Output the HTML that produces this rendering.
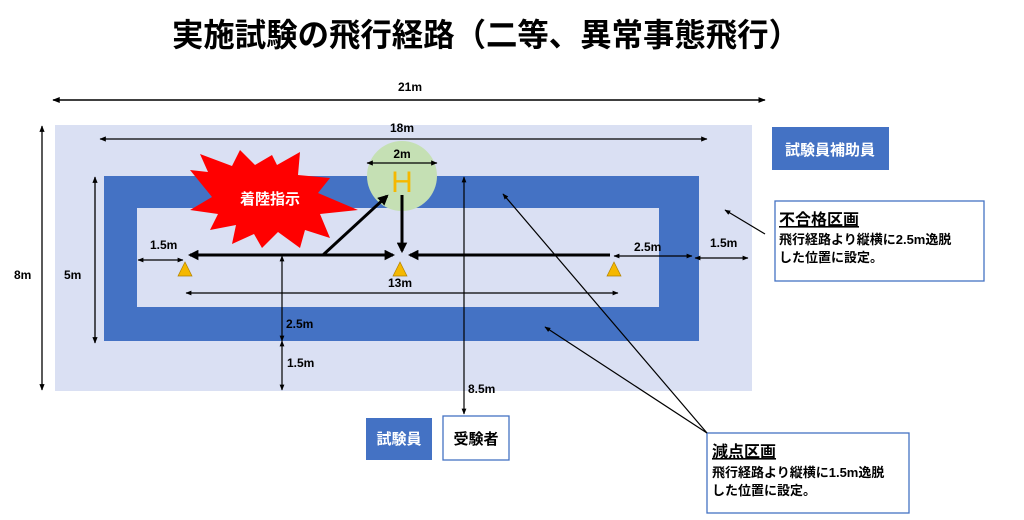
<!DOCTYPE html>
<html><head><meta charset="utf-8"><style>
html,body{margin:0;padding:0;background:#fff;}
svg{display:block;font-family:"Liberation Sans","Noto Sans CJK JP",sans-serif;}
</style></head><body>
<svg width="1024" height="520" viewBox="0 0 1024 520" xmlns="http://www.w3.org/2000/svg">
<defs>
<marker id="a" viewBox="0 0 10 10" refX="9" refY="5" markerWidth="5" markerHeight="5" orient="auto-start-reverse"><path d="M0,1 L10,5 L0,9 z" fill="#000"/></marker>
<marker id="b" viewBox="0 0 10 10" refX="8" refY="5" markerWidth="3.5" markerHeight="3.5" orient="auto-start-reverse"><path d="M0,0 L10,5 L0,10 z" fill="#000"/></marker>
</defs>
<text x="486" y="46" font-size="32" font-weight="bold" text-anchor="middle" textLength="628" lengthAdjust="spacingAndGlyphs">実施試験の飛行経路（二等、異常事態飛行）</text>
<line x1="53" y1="100" x2="765" y2="100" stroke="#000" stroke-width="1.5" marker-start="url(#a)" marker-end="url(#a)"/>
<text x="410" y="91" font-size="12" font-weight="bold" text-anchor="middle">21m</text>
<rect x="55" y="125" width="697" height="266" fill="#dae0f3"/>
<rect x="104" y="176" width="595" height="165" fill="#4472c4"/>
<rect x="137" y="208" width="522" height="99" fill="#dae0f3"/>
<line x1="100" y1="139" x2="707" y2="139" stroke="#000" stroke-width="1.3" marker-start="url(#a)" marker-end="url(#a)"/>
<text x="402" y="132" font-size="12" font-weight="bold" text-anchor="middle">18m</text>
<line x1="42" y1="126" x2="42" y2="390" stroke="#000" stroke-width="1.3" marker-start="url(#a)" marker-end="url(#a)"/>
<text x="14" y="279" font-size="12" font-weight="bold">8m</text>
<line x1="95" y1="177" x2="95" y2="343" stroke="#000" stroke-width="1.3" marker-start="url(#a)" marker-end="url(#a)"/>
<text x="64" y="279" font-size="12" font-weight="bold">5m</text>
<circle cx="402" cy="176" r="35" fill="#c5e0b4"/>
<text x="402" y="192" font-size="30" fill="#f5b800" text-anchor="middle">H</text>
<line x1="367" y1="163" x2="437" y2="163" stroke="#000" stroke-width="1.3" marker-start="url(#a)" marker-end="url(#a)"/>
<text x="402" y="158" font-size="12" font-weight="bold" text-anchor="middle">2m</text>
<polygon points="190,170 208,172 200,154 232,166 240,150 255,165 272,155 277,165 300,152 298,175 330,178 318,193 358,210 320,214 330,238 305,230 300,248 278,232 262,248 254,234 232,244 236,225 210,230 218,214 190,210 212,197" fill="#ff0000"/>
<text x="270" y="204" font-size="15" font-weight="bold" fill="#fff" text-anchor="middle">着陸指示</text>
<line x1="190" y1="255" x2="393" y2="255" stroke="#000" stroke-width="3" marker-start="url(#b)" marker-end="url(#b)"/>
<line x1="410" y1="255" x2="610" y2="255" stroke="#000" stroke-width="3" marker-start="url(#b)"/>
<line x1="323" y1="255" x2="387" y2="196" stroke="#000" stroke-width="3" marker-end="url(#b)"/>
<line x1="402" y1="195" x2="402" y2="251" stroke="#000" stroke-width="3" marker-end="url(#b)"/>
<polygon points="185,262 178,276 192,276" fill="#f5b800" stroke="#b08000" stroke-width="0.7"/>
<polygon points="400,262 393,276 407,276" fill="#f5b800" stroke="#b08000" stroke-width="0.7"/>
<polygon points="614,262 607,276 621,276" fill="#f5b800" stroke="#b08000" stroke-width="0.7"/>
<line x1="138" y1="260" x2="183" y2="260" stroke="#000" stroke-width="1.2" marker-start="url(#a)" marker-end="url(#a)"/>
<text x="150" y="249" font-size="12" font-weight="bold">1.5m</text>
<line x1="186" y1="293" x2="618" y2="293" stroke="#000" stroke-width="1.2" marker-start="url(#a)" marker-end="url(#a)"/>
<text x="400" y="287" font-size="12" font-weight="bold" text-anchor="middle">13m</text>
<line x1="282" y1="256" x2="282" y2="341" stroke="#000" stroke-width="1.2" marker-start="url(#a)" marker-end="url(#a)"/>
<line x1="282" y1="341" x2="282" y2="390" stroke="#000" stroke-width="1.2" marker-start="url(#a)" marker-end="url(#a)"/>
<text x="286" y="328" font-size="12" font-weight="bold">2.5m</text>
<text x="287" y="367" font-size="12" font-weight="bold">1.5m</text>
<line x1="464" y1="177" x2="464" y2="414" stroke="#000" stroke-width="1.2" marker-start="url(#a)" marker-end="url(#a)"/>
<text x="468" y="393" font-size="12" font-weight="bold">8.5m</text>
<line x1="614" y1="256" x2="692" y2="256" stroke="#000" stroke-width="1.2" marker-start="url(#a)" marker-end="url(#a)"/>
<text x="634" y="251" font-size="12" font-weight="bold">2.5m</text>
<line x1="695" y1="258" x2="748" y2="258" stroke="#000" stroke-width="1.2" marker-start="url(#a)" marker-end="url(#a)"/>
<text x="710" y="247" font-size="12" font-weight="bold">1.5m</text>
<rect x="772" y="127" width="117" height="43" fill="#4472c4"/>
<text x="830" y="155" font-size="15" font-weight="bold" fill="#fff" text-anchor="middle">試験員補助員</text>
<rect x="775" y="201" width="209" height="80" fill="#fff" stroke="#4472c4" stroke-width="1.3"/>
<text x="779" y="225" font-size="16" font-weight="bold" text-decoration="underline">不合格区画</text>
<text x="779" y="244" font-size="13" font-weight="bold">飛行経路より縦横に2.5m逸脱</text>
<text x="779" y="262" font-size="13" font-weight="bold">した位置に設定。</text>
<rect x="707" y="433" width="202" height="80" fill="#fff" stroke="#4472c4" stroke-width="1.3"/>
<text x="712" y="457" font-size="16" font-weight="bold" text-decoration="underline">減点区画</text>
<text x="712" y="477" font-size="13" font-weight="bold">飛行経路より縦横に1.5m逸脱</text>
<text x="712" y="495" font-size="13" font-weight="bold">した位置に設定。</text>
<line x1="765" y1="234" x2="725" y2="210" stroke="#000" stroke-width="1.2" marker-end="url(#a)"/>
<line x1="707" y1="433" x2="503" y2="194" stroke="#000" stroke-width="1.2" marker-end="url(#a)"/>
<line x1="707" y1="433" x2="545" y2="327" stroke="#000" stroke-width="1.2" marker-end="url(#a)"/>
<rect x="366" y="418" width="66" height="42" fill="#4472c4"/>
<text x="399" y="444" font-size="15" font-weight="bold" fill="#fff" text-anchor="middle">試験員</text>
<rect x="443" y="416" width="66" height="44" fill="#fff" stroke="#4472c4" stroke-width="1.3"/>
<text x="476" y="444" font-size="15" font-weight="bold" text-anchor="middle">受験者</text>
</svg>
</body></html>
